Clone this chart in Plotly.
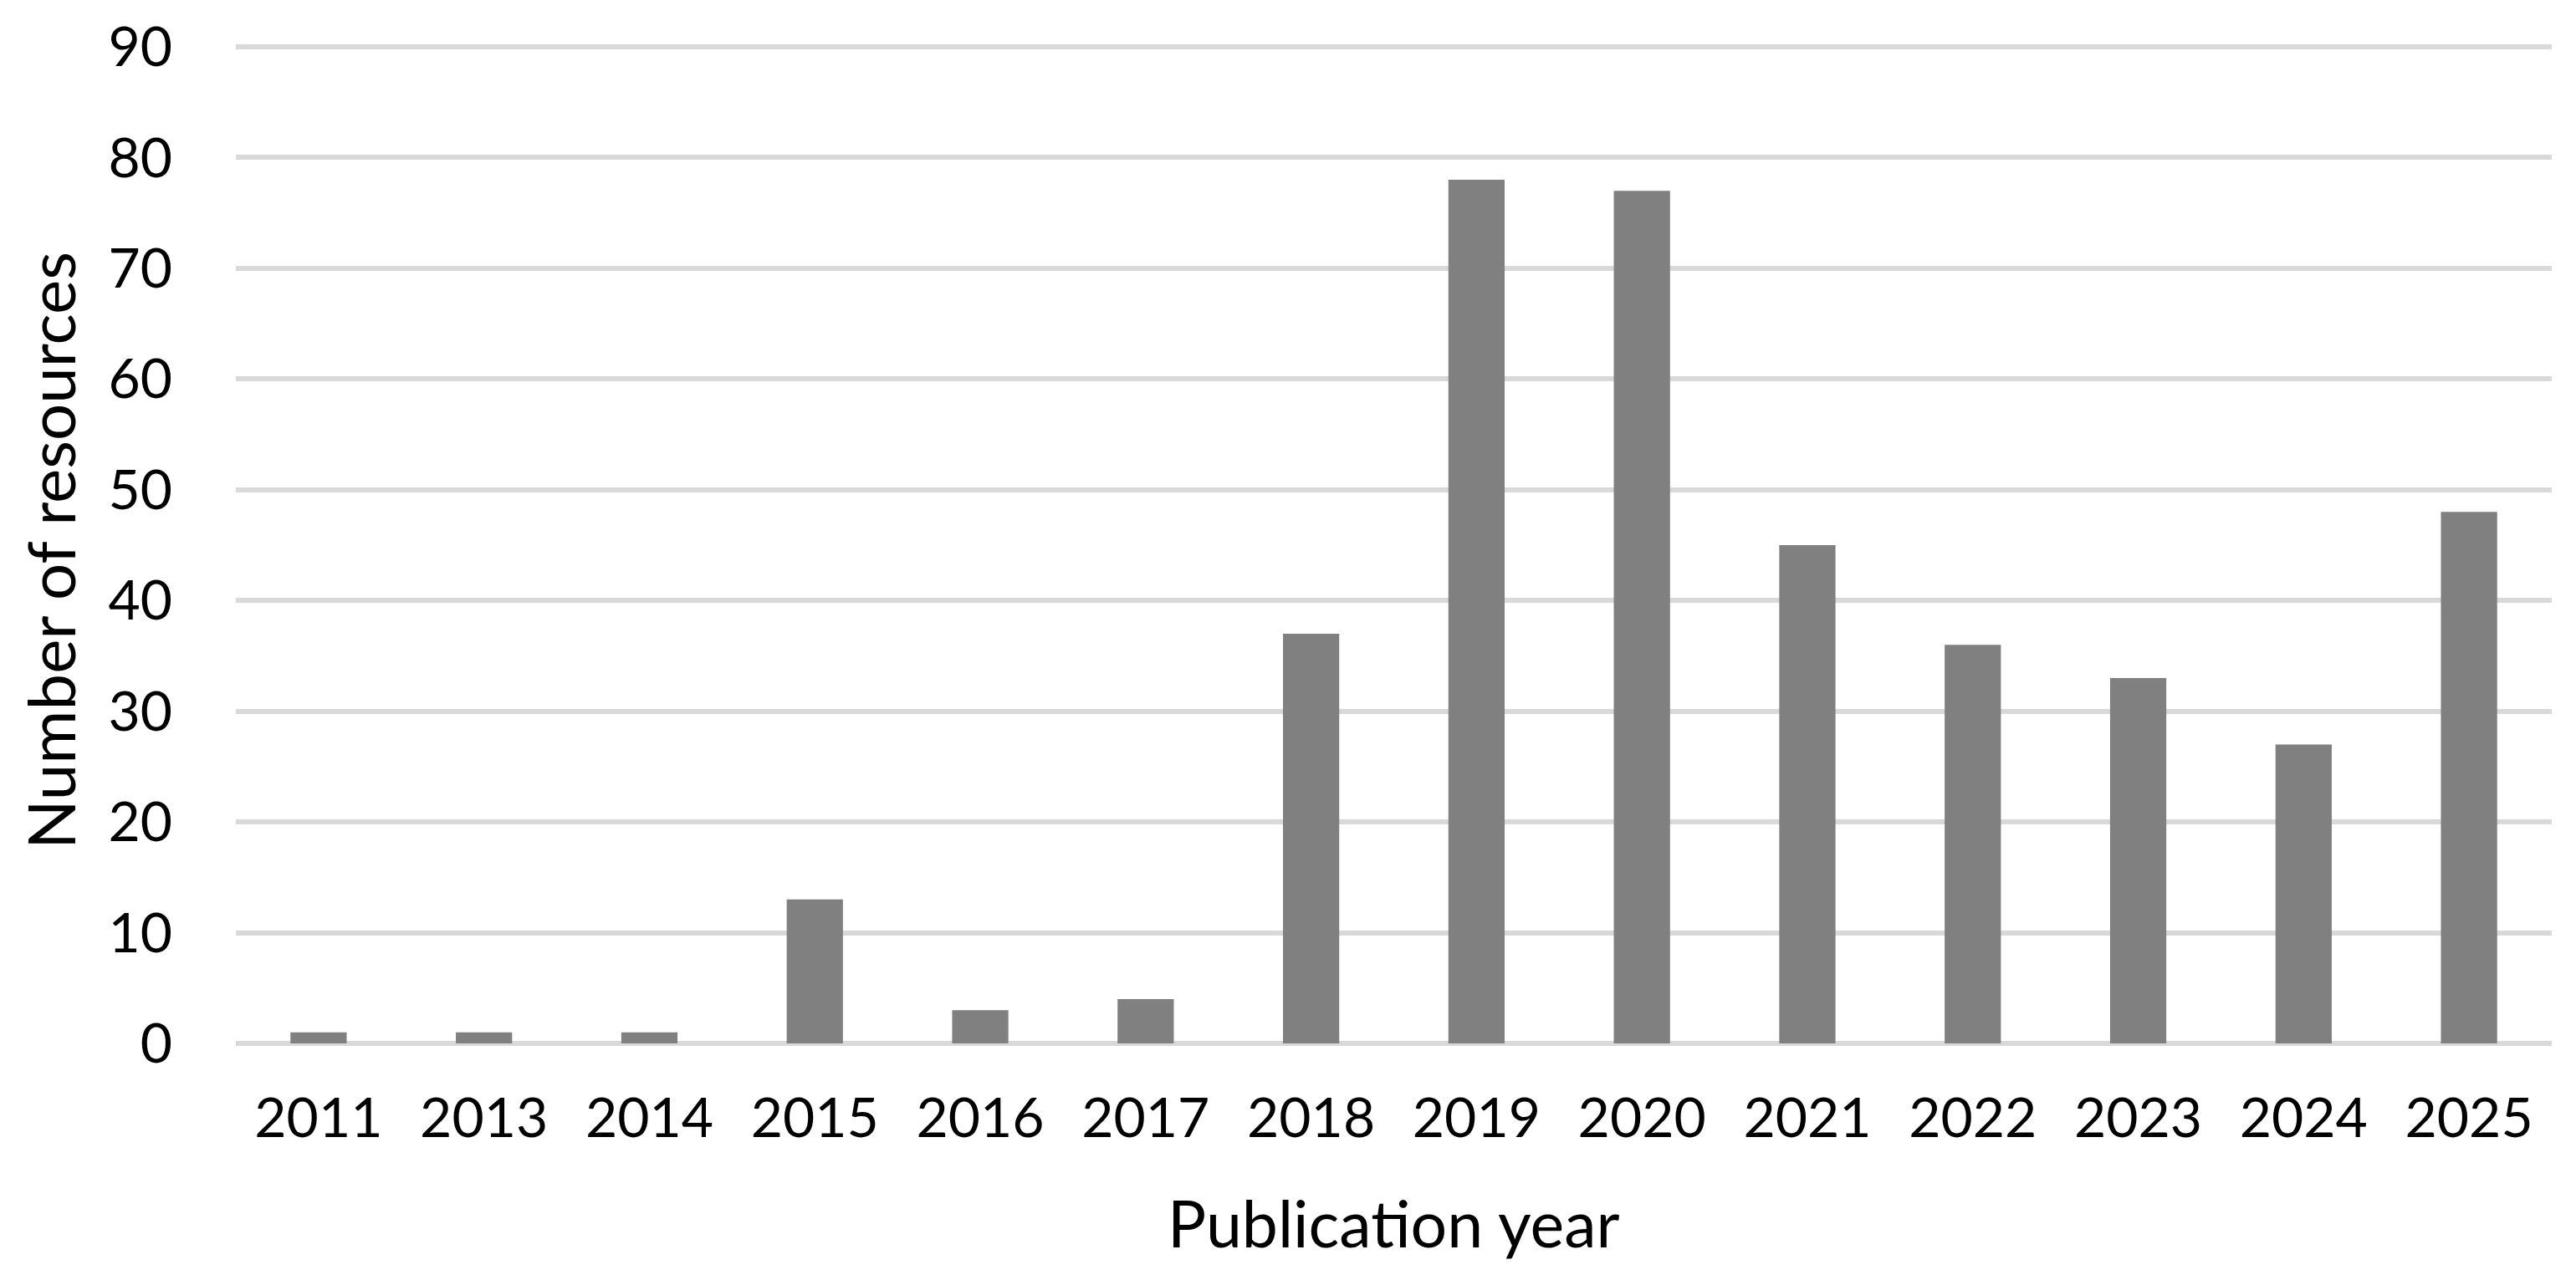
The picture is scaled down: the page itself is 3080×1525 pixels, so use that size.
import plotly.graph_objects as go

# publication counts per year
years = ["2011", "2013", "2014", "2015", "2016", "2017", "2018",
         "2019", "2020", "2021", "2022", "2023", "2024", "2025"]
resources = [1, 1, 1, 13, 3, 4, 37, 78, 77, 45, 36, 33, 27, 48]
y_ticks = [0, 10, 20, 30, 40, 50, 60, 70, 80, 90]

FONT = "Lato"

fig = go.Figure(
    go.Bar(x=years, y=resources, marker=dict(color="#808080", line=dict(width=0)))
)

fig.update_layout(
    width=3080,
    height=1525,
    margin=dict(l=274, r=37, t=46, b=285),
    paper_bgcolor="white",
    plot_bgcolor="white",
    bargap=0.66,
    showlegend=False,
    font=dict(family=FONT, size=66, color="black"),
)

fig.update_xaxes(
    type="category",
    automargin=False,
    showgrid=False,
    showline=False,
    ticks="",
    ticklabelstandoff=45,
    tickfont=dict(family=FONT, size=66, color="black"),
)

# range a hair above 90 so the top grid line is still drawn
fig.update_yaxes(
    range=[0, 90.15],
    automargin=False,
    tickvals=y_ticks,
    showgrid=True,
    gridcolor="#d9d9d9",
    gridwidth=6,
    zeroline=True,
    zerolinecolor="#d9d9d9",
    zerolinewidth=6,
    showline=False,
    ticks="",
    ticklabelstandoff=75,
    tickfont=dict(family=FONT, size=66, color="black"),
)

# axis titles as annotations so they sit where the original has them
fig.add_annotation(
    text="Publication year", xref="paper", yref="paper", x=0.5, y=0,
    xanchor="center", yanchor="middle", yshift=-214, showarrow=False,
    font=dict(family=FONT, size=77, color="black"),
)
fig.add_annotation(
    text="Number of resources", xref="paper", yref="paper", x=0, y=0.5,
    xanchor="center", yanchor="middle", xshift=-222, yshift=-8,
    textangle=-90, showarrow=False,
    font=dict(family=FONT, size=78, color="black"),
)

fig.write_html("out.html")
